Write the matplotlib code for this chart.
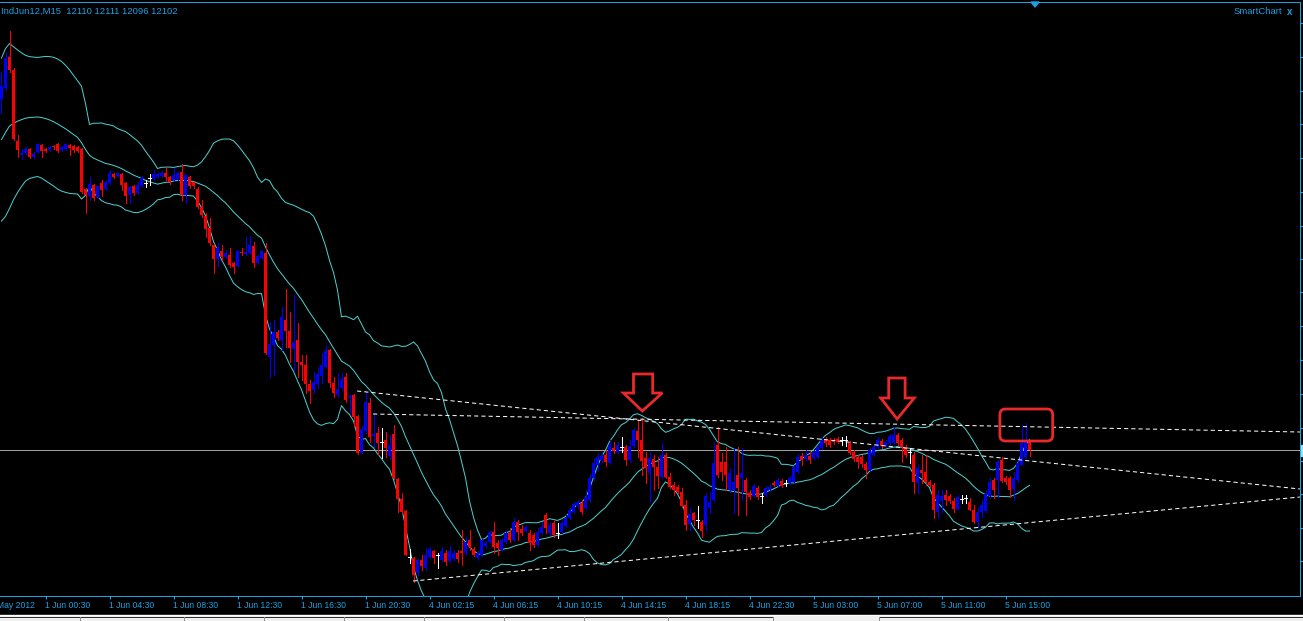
import numpy as np
import pandas as pd
import matplotlib
matplotlib.use("Agg")
import matplotlib.pyplot as plt
from matplotlib.patches import Polygon, FancyBboxPatch, Rectangle
from matplotlib.lines import Line2D

plt.rcParams['font.family'] = ['Liberation Sans', 'DejaVu Sans']
plt.rcParams['lines.scale_dashes'] = False

symbol = "IndJun12,M15"

# closes of the bars just left of the window (only used for the bands)
earlier_close = [12352, 12354, 12357, 12362, 12367, 12374, 12382, 12392, 12402, 12412,
                 12422, 12432, 12440, 12447, 12452, 12457, 12460, 12462, 12457]

opens = [12453, 12464, 12495, 12482, 12411, 12397, 12399, 12403, 12395, 12400,
         12407, 12403, 12402, 12406, 12408, 12402, 12403, 12407, 12406, 12405,
         12403, 12363, 12356, 12367, 12355, 12369, 12363, 12369, 12378, 12376,
         12378, 12369, 12357, 12366, 12359, 12366, 12369, 12374, 12373, 12375,
         12376, 12379, 12375, 12372, 12373, 12380, 12357, 12375, 12370, 12363,
         12345, 12336, 12324, 12307, 12293, 12301, 12295, 12297, 12289, 12286,
         12300, 12298, 12299, 12306, 12289, 12294, 12299, 12195, 12207, 12220,
         12212, 12232, 12221, 12203, 12212, 12190, 12187, 12168, 12162, 12168,
         12176, 12185, 12202, 12169, 12157, 12164, 12175, 12155, 12157, 12136,
         12099, 12121, 12149, 12116, 12119, 12110, 12112, 12096, 12118, 12073,
         12053, 12041, 11995, 11994, 11979, 11992, 11984, 11995, 12001, 11997,
         11992, 11999, 11991, 11993, 11999, 12001, 11999, 12012, 12003, 11994,
         11997, 12006, 12010, 12020, 12009, 12002, 12010, 12019, 12012, 12030,
         12023, 12021, 12019, 12017, 12007, 12019, 12037, 12019, 12029, 12019,
         12020, 12026, 12034, 12040, 12046, 12049, 12044, 12052, 12074, 12087,
         12092, 12097, 12089, 12104, 12100, 12105, 12105, 12092, 12106, 12121,
         12112, 12094, 12079, 12093, 12085, 12075, 12097, 12075, 12067, 12065,
         12060, 12047, 12028, 12039, 12032, 12030, 12027, 12044, 12052, 12107,
         12090, 12090, 12062, 12062, 12077, 12074, 12072, 12059, 12056, 12064,
         12056, 12057, 12062, 12069, 12066, 12071, 12069, 12069, 12070, 12080,
         12096, 12093, 12096, 12094, 12095, 12104, 12113, 12112, 12112, 12113,
         12112, 12112, 12109, 12100, 12095, 12095, 12088, 12082, 12097, 12105,
         12111, 12106, 12109, 12109, 12117, 12112, 12105, 12100, 12097, 12069,
         12082, 12080, 12070, 12067, 12040, 12051, 12057, 12056, 12051, 12043,
         12053, 12054, 12050, 12042, 12030, 12040, 12041, 12056, 12072, 12072,
         12092, 12074, 12074, 12063, 12072, 12087, 12095, 12110]

highs = [12480, 12500, 12521, 12484, 12417, 12403, 12405, 12404, 12400, 12409,
         12408, 12404, 12406, 12407, 12409, 12406, 12409, 12408, 12407, 12406,
         12404, 12364, 12375, 12368, 12367, 12372, 12372, 12382, 12379, 12380,
         12379, 12370, 12366, 12367, 12370, 12376, 12372, 12378, 12382, 12380,
         12381, 12385, 12376, 12384, 12380, 12388, 12378, 12376, 12371, 12365,
         12352, 12339, 12334, 12308, 12309, 12307, 12302, 12304, 12290, 12302,
         12304, 12315, 12316, 12310, 12297, 12302, 12309, 12230, 12232, 12222,
         12245, 12263, 12240, 12257, 12229, 12197, 12197, 12172, 12180, 12185,
         12199, 12207, 12203, 12175, 12179, 12179, 12179, 12158, 12158, 12137,
         12126, 12160, 12154, 12139, 12125, 12124, 12120, 12117, 12127, 12074,
         12059, 12042, 12003, 11995, 11993, 11997, 12004, 12005, 12002, 11999,
         12005, 12002, 12006, 12002, 12002, 12022, 12015, 12022, 12005, 12001,
         12014, 12011, 12022, 12030, 12012, 12014, 12021, 12024, 12034, 12032,
         12027, 12027, 12022, 12019, 12024, 12030, 12039, 12030, 12031, 12029,
         12031, 12037, 12044, 12050, 12052, 12052, 12062, 12078, 12094, 12099,
         12100, 12102, 12112, 12110, 12110, 12115, 12107, 12112, 12124, 12132,
         12134, 12100, 12100, 12097, 12095, 12109, 12099, 12079, 12070, 12067,
         12064, 12052, 12044, 12040, 12046, 12032, 12059, 12060, 12109, 12125,
         12099, 12105, 12084, 12104, 12105, 12104, 12074, 12062, 12068, 12066,
         12059, 12066, 12067, 12071, 12074, 12073, 12072, 12076, 12087, 12098,
         12099, 12102, 12100, 12103, 12108, 12115, 12115, 12114, 12114, 12115,
         12115, 12116, 12111, 12102, 12097, 12097, 12090, 12104, 12107, 12115,
         12113, 12112, 12118, 12125, 12119, 12114, 12107, 12104, 12100, 12087,
         12097, 12097, 12072, 12069, 12062, 12062, 12062, 12058, 12054, 12057,
         12057, 12057, 12054, 12047, 12045, 12052, 12062, 12074, 12074, 12092,
         12095, 12076, 12076, 12080, 12094, 12127, 12129, 12111]

lows = [12439, 12462, 12480, 12412, 12395, 12393, 12398, 12394, 12394, 12399,
        12395, 12400, 12401, 12403, 12400, 12401, 12402, 12397, 12400, 12400,
        12359, 12339, 12352, 12352, 12354, 12356, 12362, 12368, 12374, 12375,
        12362, 12349, 12349, 12357, 12358, 12365, 12365, 12367, 12372, 12374,
        12375, 12372, 12368, 12371, 12372, 12352, 12349, 12364, 12364, 12344,
        12335, 12315, 12307, 12279, 12286, 12292, 12294, 12285, 12279, 12285,
        12297, 12297, 12298, 12285, 12288, 12293, 12198, 12175, 12177, 12212,
        12202, 12205, 12190, 12182, 12175, 12172, 12159, 12149, 12159, 12164,
        12169, 12184, 12165, 12155, 12155, 12162, 12150, 12139, 12125, 12098,
        12099, 12119, 12110, 12105, 12097, 12094, 12095, 12093, 12073, 12040,
        12039, 11997, 11989, 11970, 11977, 11982, 11982, 11994, 11989, 11984,
        11991, 11987, 11990, 11992, 11990, 11987, 11997, 12002, 11996, 11992,
        11996, 12004, 12009, 11999, 11997, 12001, 12009, 12010, 12011, 12012,
        12017, 12020, 12002, 12005, 12006, 12018, 12019, 12017, 12015, 12014,
        12019, 12025, 12033, 12039, 12044, 12038, 12042, 12050, 12072, 12082,
        12090, 12086, 12088, 12099, 12099, 12100, 12087, 12090, 12105, 12095,
        12077, 12069, 12050, 12062, 12064, 12074, 12074, 12064, 12057, 12059,
        12045, 12022, 12022, 12027, 12024, 12015, 12022, 12039, 12050, 12075,
        12072, 12062, 12060, 12039, 12037, 12052, 12037, 12053, 12055, 12053,
        12049, 12056, 12061, 12066, 12065, 12065, 12066, 12068, 12069, 12079,
        12087, 12092, 12089, 12093, 12094, 12103, 12106, 12105, 12108, 12109,
        12107, 12106, 12098, 12091, 12084, 12085, 12074, 12081, 12096, 12104,
        12104, 12105, 12108, 12108, 12107, 12090, 12095, 12089, 12059, 12059,
        12069, 12067, 12065, 12034, 12034, 12040, 12047, 12049, 12040, 12042,
        12049, 12049, 12042, 12029, 12024, 12035, 12040, 12055, 12054, 12055,
        12070, 12068, 12055, 12052, 12070, 12087, 12094, 12096]

closes = [12466, 12494, 12482, 12413, 12402, 12399, 12403, 12395, 12398, 12408,
          12401, 12401, 12405, 12405, 12401, 12405, 12408, 12404, 12402, 12401,
          12360, 12357, 12368, 12354, 12366, 12362, 12370, 12379, 12375, 12379,
          12367, 12356, 12365, 12359, 12367, 12374, 12369, 12374, 12378, 12378,
          12379, 12375, 12370, 12377, 12379, 12357, 12377, 12366, 12366, 12345,
          12337, 12323, 12309, 12293, 12304, 12295, 12299, 12287, 12285, 12301,
          12299, 12300, 12307, 12289, 12296, 12301, 12199, 12208, 12220, 12214,
          12235, 12221, 12204, 12210, 12190, 12187, 12168, 12161, 12170, 12178,
          12187, 12201, 12169, 12159, 12163, 12173, 12152, 12156, 12135, 12099,
          12123, 12150, 12115, 12118, 12109, 12110, 12104, 12107, 12074, 12053,
          12040, 11997, 11995, 11977, 11992, 11986, 11997, 12003, 11994, 11997,
          12001, 11990, 12001, 11999, 11993, 11999, 12010, 12005, 11997, 11999,
          12012, 12009, 12020, 12005, 12004, 12012, 12019, 12012, 12030, 12020,
          12019, 12025, 12009, 12007, 12020, 12025, 12024, 12027, 12017, 12019,
          12029, 12034, 12042, 12048, 12050, 12040, 12055, 12074, 12089, 12095,
          12096, 12090, 12107, 12101, 12107, 12105, 12092, 12106, 12122, 12112,
          12091, 12084, 12094, 12085, 12076, 12097, 12075, 12065, 12062, 12060,
          12046, 12027, 12038, 12032, 12032, 12021, 12056, 12050, 12089, 12077,
          12080, 12077, 12079, 12070, 12064, 12079, 12060, 12055, 12066, 12055,
          12056, 12064, 12065, 12067, 12072, 12066, 12069, 12074, 12085, 12095,
          12092, 12097, 12092, 12100, 12105, 12112, 12109, 12107, 12110, 12110,
          12112, 12112, 12099, 12093, 12090, 12088, 12082, 12102, 12105, 12112,
          12106, 12110, 12116, 12117, 12109, 12105, 12097, 12100, 12070, 12084,
          12079, 12070, 12067, 12042, 12057, 12056, 12052, 12051, 12043, 12055,
          12053, 12054, 12042, 12030, 12040, 12047, 12058, 12070, 12062, 12090,
          12071, 12070, 12062, 12074, 12089, 12109, 12112, 12102]

time_ticks = [11, 27, 43, 59, 75, 91, 107, 123, 139, 155, 171, 187, 203, 219, 235, 251]
time_labels = ["1 Jun 00:30", "1 Jun 04:30", "1 Jun 08:30", "1 Jun 12:30",
               "1 Jun 16:30", "1 Jun 20:30", "4 Jun 02:15", "4 Jun 06:15",
               "4 Jun 10:15", "4 Jun 14:15", "4 Jun 18:15", "4 Jun 22:30",
               "5 Jun 03:00", "5 Jun 07:00", "5 Jun 11:00", "5 Jun 15:00"]
first_label = "31 May 2012"
price_ticks = [12529, 12495, 12461, 12428, 12394, 12360, 12326, 12293, 12260,
               12226, 12192, 12158, 12124, 12091, 12058, 12024, 11991]

# hand-drawn objects on the chart (bar index, price)
trend_lines = [((88.9, 12161), (324.6, 12063)),
               ((92.9, 12138), (324.6, 12120)),
               ((102.9, 11971), (324.6, 12055))]
arrow_1 = [(158.0, 12178), (162.8, 12178), (162.8, 12159), (165.2, 12159),
           (160.2, 12141), (155.5, 12159), (158.0, 12159)]
arrow_2 = [(221.8, 12174), (225.9, 12174), (225.9, 12154), (228.2, 12154),
           (223.9, 12133), (219.8, 12154), (221.8, 12154)]
box = (249.6, 12111, 13.2, 32)

W, H = 1303, 621
axis_col = '#1ba1e6'
band_col = '#4ccfcf'
bull, bear, doji = '#0000ff', '#ff0000', '#ffffff'
mark_col = '#ea2a2a'
px = 0.72

fig = plt.figure(figsize=(W / 100, H / 100), dpi=100, facecolor='black')
ax = fig.add_axes([0, (H - 596) / H, 1300 / W, 594 / H], facecolor='black')
ax.set_xlim(-0.375, 324.625)
ax.set_ylim(11956, 12550)

# Bollinger bands 20, 2
allc = pd.Series(earlier_close + closes, dtype=float)
mid = allc.rolling(20).mean()
sd = allc.rolling(20).std(ddof=0)
xb = np.arange(-len(earlier_close), len(closes))
for line in (mid, mid + 2 * sd, mid - 2 * sd):
    ax.plot(xb, line.values, color=band_col, lw=px, zorder=2)

# bid line
ax.axhline(closes[-1], color='#a0a0a0', lw=px, zorder=1)

# candles
x = np.arange(len(closes))
o = np.array(opens, float)
c = np.array(closes, float)
h = np.array(highs, float)
l = np.array(lows, float)
cols = np.where(c > o, bull, np.where(c < o, bear, doji))
ax.vlines(x, l, h, colors=cols, lw=px, antialiased=False, zorder=3)
flat = c == o
body = np.maximum(np.abs(c - o), 1.0)
ax.bar(x[~flat], body[~flat], bottom=np.minimum(o, c)[~flat], width=0.75,
       color=cols[~flat], lw=0, antialiased=False, zorder=4)
ax.hlines(c[flat], x[flat] - 0.45, x[flat] + 0.45, colors=doji, lw=px,
          antialiased=False, zorder=4)

# trend lines
for (x0, y0), (x1, y1) in trend_lines:
    ax.plot([x0, x1], [y0, y1], color='white', lw=px, dashes=(3.0, 2.2), zorder=5)

# red marks
for pts in (arrow_1, arrow_2):
    ax.add_patch(Polygon(pts, closed=True, fill=False, ec=mark_col, lw=2.0,
                         joinstyle='miter', zorder=6))
ax.add_patch(FancyBboxPatch((box[0], box[1]), box[2], box[3],
                            boxstyle='round,pad=0,rounding_size=1.4',
                            mutation_aspect=4, fill=False, ec=mark_col, lw=2.0, zorder=6))

# axes frame
for s in ('top', 'right', 'bottom'):
    ax.spines[s].set_color(axis_col)
    ax.spines[s].set_linewidth(px)
ax.spines['left'].set_visible(False)
ax.set_xticks(time_ticks)
ax.set_xticklabels([])
ax.yaxis.tick_right()
ax.set_yticks(price_ticks)
ax.set_yticklabels([])
ax.tick_params(axis='both', direction='out', length=2.2, width=px, color=axis_col)
ax.tick_params(axis='y', left=False)

tr = ax.get_xaxis_transform()
for t, lab in zip(time_ticks, time_labels):
    ax.text(t - 0.1, -0.0168, lab, transform=tr, ha='left', va='center',
            fontsize=6.2, color=axis_col, clip_on=False)
ax.text(8.4, -0.0168, first_label, transform=tr, ha='right', va='center',
        fontsize=6.2, color=axis_col, clip_on=False)

# header and window captions
fig.text(1 / W, 1 - 11 / H, f"{symbol}  {opens[-1]} {highs[-1]} {lows[-1]} {closes[-1]}",
         ha='left', va='center', fontsize=6.8, color=axis_col)
fig.text(1282 / W, 1 - 12 / H, "SmartChart", ha='right', va='center',
         fontsize=6.8, color=axis_col)
fig.text(1290 / W, 1 - 12 / H, "x", ha='center', va='center', fontsize=7,
         fontweight='bold', color=axis_col)
fig.add_artist(Polygon([[1031 / W, 1 - 2 / H], [1039 / W, 1 - 2 / H], [1035 / W, 1 - 7 / H]],
                       closed=True, color=axis_col, transform=fig.transFigure))
fig.add_artist(Rectangle((1300.5 / W, 1 - 456 / H), 3 / W, 11 / H, color='#8fe3ff',
                         transform=fig.transFigure))

# terminal tab strip at the bottom
fig.add_artist(Rectangle((0, 0), 1, 6 / H, color='#f0f0f0', transform=fig.transFigure))
fig.add_artist(Line2D([0, 1], [1 - 614.5 / H] * 2, color='white', lw=px,
                      transform=fig.transFigure))
fig.add_artist(Line2D([0, 773 / W], [1 - 616.5 / H] * 2, color='#303030', lw=px,
                      transform=fig.transFigure))
fig.add_artist(Line2D([879 / W, 1], [1 - 616.5 / H] * 2, color='#303030', lw=px,
                      transform=fig.transFigure))
for xd in [80, 184, 264, 344, 424, 504, 584, 668, 773, 879]:
    fig.add_artist(Line2D([xd / W] * 2, [0, 1 - 617 / H], color='#909090', lw=px,
                          transform=fig.transFigure))

fig.savefig('out.png', dpi=100, facecolor='black')
